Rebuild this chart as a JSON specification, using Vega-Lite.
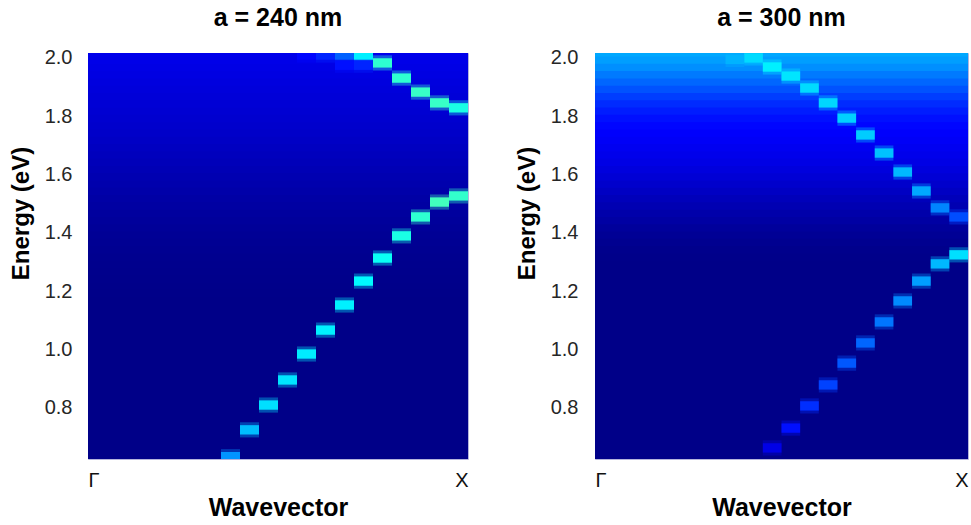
{
  "$schema": "https://vega.github.io/schema/vega-lite/v6.json",
  "background": "white",
  "padding": {"left": 8, "top": 5, "right": 0, "bottom": 0},
  "spacing": 45,
  "config": {
    "view": {"stroke": "#b4b4dc", "strokeWidth": 1},
    "font": "Liberation Sans"
  },
  "datasets": {
    "bg": [
      {"p":"240","e":0.625,"v":0.008},{"p":"240","e":0.65,"v":0.008},{"p":"240","e":0.675,"v":0.008},{"p":"240","e":0.7,"v":0.008},
      {"p":"240","e":0.725,"v":0.008},{"p":"240","e":0.75,"v":0.008},{"p":"240","e":0.775,"v":0.008},{"p":"240","e":0.8,"v":0.008},
      {"p":"240","e":0.825,"v":0.008},{"p":"240","e":0.85,"v":0.008},{"p":"240","e":0.875,"v":0.008},{"p":"240","e":0.9,"v":0.008},
      {"p":"240","e":0.925,"v":0.008},{"p":"240","e":0.95,"v":0.008},{"p":"240","e":0.975,"v":0.008},{"p":"240","e":1.0,"v":0.008},
      {"p":"240","e":1.025,"v":0.008},{"p":"240","e":1.05,"v":0.008},{"p":"240","e":1.075,"v":0.008},{"p":"240","e":1.1,"v":0.008},
      {"p":"240","e":1.125,"v":0.008},{"p":"240","e":1.15,"v":0.008},{"p":"240","e":1.175,"v":0.008},{"p":"240","e":1.2,"v":0.009},
      {"p":"240","e":1.225,"v":0.01},{"p":"240","e":1.25,"v":0.011},{"p":"240","e":1.275,"v":0.012},{"p":"240","e":1.3,"v":0.013},
      {"p":"240","e":1.325,"v":0.015},{"p":"240","e":1.35,"v":0.017},{"p":"240","e":1.375,"v":0.019},{"p":"240","e":1.4,"v":0.021},
      {"p":"240","e":1.425,"v":0.024},{"p":"240","e":1.45,"v":0.027},{"p":"240","e":1.475,"v":0.03},{"p":"240","e":1.5,"v":0.033},
      {"p":"240","e":1.525,"v":0.036},{"p":"240","e":1.55,"v":0.04},{"p":"240","e":1.575,"v":0.044},{"p":"240","e":1.6,"v":0.048},
      {"p":"240","e":1.625,"v":0.052},{"p":"240","e":1.65,"v":0.056},{"p":"240","e":1.675,"v":0.06},{"p":"240","e":1.7,"v":0.064},
      {"p":"240","e":1.725,"v":0.068},{"p":"240","e":1.75,"v":0.072},{"p":"240","e":1.775,"v":0.075},{"p":"240","e":1.8,"v":0.078},
      {"p":"240","e":1.825,"v":0.081},{"p":"240","e":1.85,"v":0.084},{"p":"240","e":1.875,"v":0.087},{"p":"240","e":1.9,"v":0.09},
      {"p":"240","e":1.925,"v":0.093},{"p":"240","e":1.95,"v":0.096},{"p":"240","e":1.975,"v":0.099},{"p":"240","e":2.0,"v":0.102},
      {"p":"240","e":2.025,"v":0.105},
      {"p":"300","e":0.625,"v":0.008},{"p":"300","e":0.65,"v":0.008},{"p":"300","e":0.675,"v":0.008},{"p":"300","e":0.7,"v":0.008},
      {"p":"300","e":0.725,"v":0.008},{"p":"300","e":0.75,"v":0.008},{"p":"300","e":0.775,"v":0.008},{"p":"300","e":0.8,"v":0.008},
      {"p":"300","e":0.825,"v":0.008},{"p":"300","e":0.85,"v":0.008},{"p":"300","e":0.875,"v":0.008},{"p":"300","e":0.9,"v":0.008},
      {"p":"300","e":0.925,"v":0.008},{"p":"300","e":0.95,"v":0.008},{"p":"300","e":0.975,"v":0.008},{"p":"300","e":1.0,"v":0.008},
      {"p":"300","e":1.025,"v":0.008},{"p":"300","e":1.05,"v":0.008},{"p":"300","e":1.075,"v":0.008},{"p":"300","e":1.1,"v":0.008},
      {"p":"300","e":1.125,"v":0.008},{"p":"300","e":1.15,"v":0.008},{"p":"300","e":1.175,"v":0.008},{"p":"300","e":1.2,"v":0.008},
      {"p":"300","e":1.225,"v":0.008},{"p":"300","e":1.25,"v":0.008},{"p":"300","e":1.275,"v":0.008},{"p":"300","e":1.3,"v":0.008},
      {"p":"300","e":1.325,"v":0.01},{"p":"300","e":1.35,"v":0.012},{"p":"300","e":1.375,"v":0.016},{"p":"300","e":1.4,"v":0.021},
      {"p":"300","e":1.425,"v":0.027},{"p":"300","e":1.45,"v":0.034},{"p":"300","e":1.475,"v":0.041},{"p":"300","e":1.5,"v":0.049},
      {"p":"300","e":1.525,"v":0.057},{"p":"300","e":1.55,"v":0.066},{"p":"300","e":1.575,"v":0.075},{"p":"300","e":1.6,"v":0.084},
      {"p":"300","e":1.625,"v":0.092},{"p":"300","e":1.65,"v":0.099},{"p":"300","e":1.675,"v":0.105},{"p":"300","e":1.7,"v":0.111},
      {"p":"300","e":1.725,"v":0.117},{"p":"300","e":1.75,"v":0.122},{"p":"300","e":1.775,"v":0.13},{"p":"300","e":1.8,"v":0.14},
      {"p":"300","e":1.825,"v":0.152},{"p":"300","e":1.85,"v":0.167},{"p":"300","e":1.875,"v":0.185},{"p":"300","e":1.9,"v":0.205},
      {"p":"300","e":1.925,"v":0.225},{"p":"300","e":1.95,"v":0.245},{"p":"300","e":1.975,"v":0.265},{"p":"300","e":2.0,"v":0.28},
      {"p":"300","e":2.025,"v":0.29}
    ],
    "cells": [
      {"p":"240","k":7,"e":0.633,"v":0.27},{"p":"240","k":8,"e":0.725,"v":0.31},{"p":"240","k":9,"e":0.81,"v":0.345},
      {"p":"240","k":10,"e":0.896,"v":0.35},{"p":"240","k":11,"e":0.985,"v":0.355},{"p":"240","k":12,"e":1.067,"v":0.36},
      {"p":"240","k":13,"e":1.153,"v":0.36},{"p":"240","k":14,"e":1.235,"v":0.37},{"p":"240","k":15,"e":1.314,"v":0.385},
      {"p":"240","k":16,"e":1.39,"v":0.4},{"p":"240","k":17,"e":1.455,"v":0.42},{"p":"240","k":18,"e":1.506,"v":0.44},
      {"p":"240","k":19,"e":1.527,"v":0.425},
      {"p":"240","k":14,"e":2.01,"v":0.36},{"p":"240","k":15,"e":1.983,"v":0.42},{"p":"240","k":16,"e":1.931,"v":0.42},
      {"p":"240","k":17,"e":1.883,"v":0.43},{"p":"240","k":18,"e":1.846,"v":0.43},{"p":"240","k":19,"e":1.829,"v":0.4},
      {"p":"240","k":11,"e":2.01,"v":0.13},{"p":"240","k":12,"e":2.01,"v":0.16},{"p":"240","k":13,"e":2.01,"v":0.22},
      {"p":"240","k":13,"e":1.975,"v":0.14},{"p":"240","k":14,"e":1.975,"v":0.16},
      {"p":"300","k":8,"e":2.0,"v":0.34},{"p":"300","k":9,"e":1.969,"v":0.36},{"p":"300","k":10,"e":1.938,"v":0.35},
      {"p":"300","k":11,"e":1.897,"v":0.34},{"p":"300","k":12,"e":1.846,"v":0.335},{"p":"300","k":13,"e":1.794,"v":0.33},
      {"p":"300","k":14,"e":1.736,"v":0.325},{"p":"300","k":15,"e":1.674,"v":0.315},{"p":"300","k":16,"e":1.609,"v":0.305},
      {"p":"300","k":17,"e":1.544,"v":0.29},{"p":"300","k":18,"e":1.486,"v":0.255},{"p":"300","k":19,"e":1.455,"v":0.2},
      {"p":"300","k":9,"e":0.663,"v":0.1},{"p":"300","k":10,"e":0.731,"v":0.14},{"p":"300","k":11,"e":0.807,"v":0.17},
      {"p":"300","k":12,"e":0.879,"v":0.19},{"p":"300","k":13,"e":0.954,"v":0.21},{"p":"300","k":14,"e":1.023,"v":0.225},
      {"p":"300","k":15,"e":1.095,"v":0.24},{"p":"300","k":16,"e":1.167,"v":0.26},{"p":"300","k":17,"e":1.235,"v":0.28},
      {"p":"300","k":18,"e":1.294,"v":0.305},{"p":"300","k":19,"e":1.325,"v":0.345},
      {"p":"300","k":7,"e":1.995,"v":0.3}
    ]
  },
  "hconcat": [
    {
      "width": 380,
      "height": 406,
      "title": {"text": "a = 240 nm", "frame": "group", "anchor": "middle", "offset": 17, "fontSize": 25, "fontWeight": "bold", "font": "Liberation Sans", "color": "#000000"},
      "encoding": {
        "x": {"field": "k0", "type": "quantitative", "scale": {"domain": [0, 20], "nice": false, "zero": false},
          "axis": {"values": [0, 20], "labelExpr": "datum.value == 0 ? 'Γ' : 'X'", "labelFlush": true, "ticks": false, "domain": false, "grid": false,
            "labelFontSize": 20, "labelFont": "Liberation Sans", "labelColor": "#111111", "labelPadding": 11,
            "title": "Wavevector", "titleFontSize": 25, "titleFont": "Liberation Sans", "titleFontWeight": "bold", "titleColor": "#000000", "titlePadding": 5}},
        "x2": {"field": "k1"},
        "y": {"field": "e0", "type": "quantitative", "scale": {"domain": [0.625, 2.017], "nice": false, "zero": false},
          "axis": {"values": [0.8, 1.0, 1.2, 1.4, 1.6, 1.8, 2.0], "format": ".1f", "ticks": false, "domain": false, "grid": false,
            "labelFontSize": 20, "labelFont": "Liberation Sans", "labelColor": "#262626", "labelPadding": 16,
            "title": "Energy (eV)", "titleFontSize": 24, "titleFont": "Liberation Sans", "titleFontWeight": "bold", "titleColor": "#000000",
            "titleAngle": 270, "titleBaseline": "middle", "titleAlign": "center", "titleX": -67, "titleY": 160}},
        "y2": {"field": "e1"},
        "color": {"field": "v", "type": "quantitative", "legend": null,
          "scale": {"type": "linear", "domain": [0, 0.125, 0.375, 0.625], "range": ["#000080", "#0000ff", "#00ffff", "#ffff00"], "interpolate": "rgb"}}
      },
      "layer": [
        {
          "data": {"name": "bg"},
          "transform": [{"filter": "datum.p == '240'"}, {"calculate": "0", "as": "k0"}, {"calculate": "20", "as": "k1"}, {"calculate": "datum.e - 0.02", "as": "e0"}, {"calculate": "datum.e + 0.02", "as": "e1"}],
          "mark": {"type": "rect", "clip": true}
        },
        {
          "data": {"name": "cells"},
          "transform": [{"filter": "datum.p == '240'"}, {"calculate": "datum.k", "as": "k0"}, {"calculate": "datum.k + 1", "as": "k1"}, {"calculate": "datum.e - 0.026", "as": "e0"}, {"calculate": "datum.e + 0.026", "as": "e1"}],
          "mark": {"type": "rect", "clip": true, "opacity": 0.35}
        },
        {
          "data": {"name": "cells"},
          "transform": [{"filter": "datum.p == '240'"}, {"calculate": "datum.k", "as": "k0"}, {"calculate": "datum.k + 1", "as": "k1"}, {"calculate": "datum.e - 0.016", "as": "e0"}, {"calculate": "datum.e + 0.016", "as": "e1"}],
          "mark": {"type": "rect", "clip": true}
        }
      ]
    },
    {
      "width": 373,
      "height": 406,
      "title": {"text": "a = 300 nm", "frame": "group", "anchor": "middle", "offset": 17, "fontSize": 25, "fontWeight": "bold", "font": "Liberation Sans", "color": "#000000"},
      "encoding": {
        "x": {"field": "k0", "type": "quantitative", "scale": {"domain": [0, 20], "nice": false, "zero": false},
          "axis": {"values": [0, 20], "labelExpr": "datum.value == 0 ? 'Γ' : 'X'", "labelFlush": true, "ticks": false, "domain": false, "grid": false,
            "labelFontSize": 20, "labelFont": "Liberation Sans", "labelColor": "#111111", "labelPadding": 11,
            "title": "Wavevector", "titleFontSize": 25, "titleFont": "Liberation Sans", "titleFontWeight": "bold", "titleColor": "#000000", "titlePadding": 5}},
        "x2": {"field": "k1"},
        "y": {"field": "e0", "type": "quantitative", "scale": {"domain": [0.625, 2.017], "nice": false, "zero": false},
          "axis": {"values": [0.8, 1.0, 1.2, 1.4, 1.6, 1.8, 2.0], "format": ".1f", "ticks": false, "domain": false, "grid": false,
            "labelFontSize": 20, "labelFont": "Liberation Sans", "labelColor": "#262626", "labelPadding": 17,
            "title": "Energy (eV)", "titleFontSize": 24, "titleFont": "Liberation Sans", "titleFontWeight": "bold", "titleColor": "#000000",
            "titleAngle": 270, "titleBaseline": "middle", "titleAlign": "center", "titleX": -68, "titleY": 160}},
        "y2": {"field": "e1"},
        "color": {"field": "v", "type": "quantitative", "legend": null,
          "scale": {"type": "linear", "domain": [0, 0.125, 0.375, 0.625], "range": ["#000080", "#0000ff", "#00ffff", "#ffff00"], "interpolate": "rgb"}}
      },
      "layer": [
        {
          "data": {"name": "bg"},
          "transform": [{"filter": "datum.p == '300'"}, {"calculate": "0", "as": "k0"}, {"calculate": "20", "as": "k1"}, {"calculate": "datum.e - 0.02", "as": "e0"}, {"calculate": "datum.e + 0.02", "as": "e1"}],
          "mark": {"type": "rect", "clip": true}
        },
        {
          "data": {"name": "cells"},
          "transform": [{"filter": "datum.p == '300'"}, {"calculate": "datum.k", "as": "k0"}, {"calculate": "datum.k + 1", "as": "k1"}, {"calculate": "datum.e - 0.026", "as": "e0"}, {"calculate": "datum.e + 0.026", "as": "e1"}],
          "mark": {"type": "rect", "clip": true, "opacity": 0.35}
        },
        {
          "data": {"name": "cells"},
          "transform": [{"filter": "datum.p == '300'"}, {"calculate": "datum.k", "as": "k0"}, {"calculate": "datum.k + 1", "as": "k1"}, {"calculate": "datum.e - 0.016", "as": "e0"}, {"calculate": "datum.e + 0.016", "as": "e1"}],
          "mark": {"type": "rect", "clip": true}
        }
      ]
    }
  ]
}
